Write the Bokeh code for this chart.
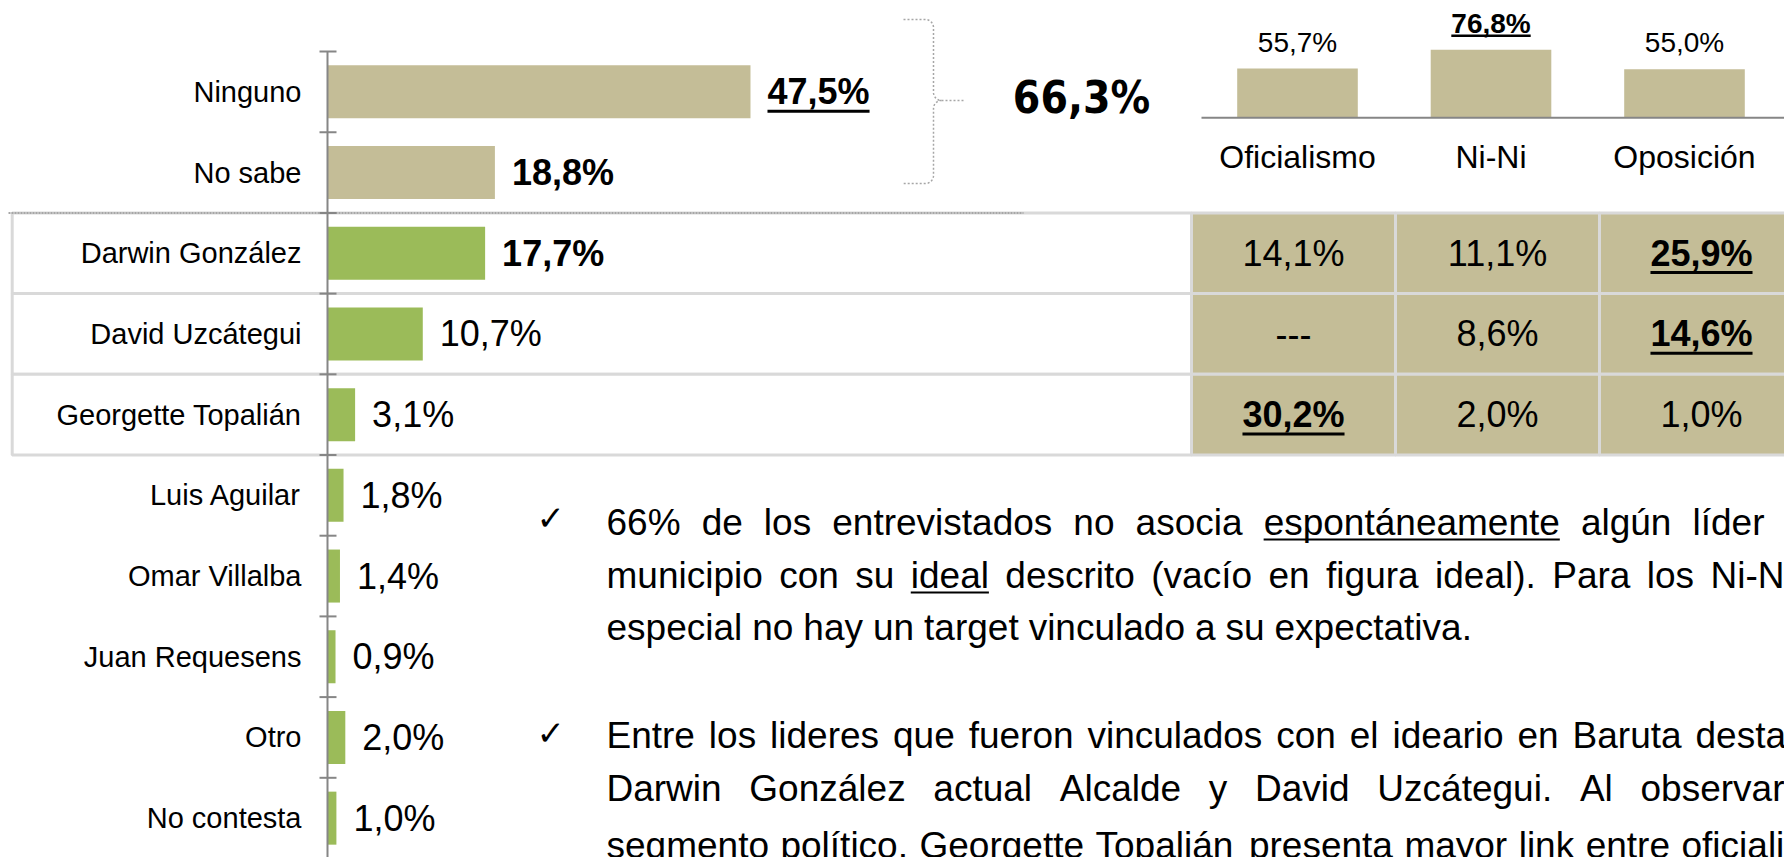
import numpy as np
from bokeh.plotting import figure
from bokeh.models import Range1d
from bokeh.core.properties import value
from bokeh.embed import file_html
from bokeh.resources import INLINE

# ---------------- data ----------------
categories = ["Ninguno", "No sabe", "Darwin González", "David Uzcátegui",
              "Georgette Topalián", "Luis Aguilar", "Omar Villalba",
              "Juan Requesens", "Otro", "No contesta"]
shares = [47.5, 18.8, 17.7, 10.7, 3.1, 1.8, 1.4, 0.9, 2.0, 1.0]

segments = ["Oficialismo", "Ni-Ni", "Oposición"]
segment_no_leader = [55.7, 76.8, 55.0]

table_leaders = ["Darwin González", "David Uzcátegui", "Georgette Topalián"]
tab_oficialismo = [14.1, None, 30.2]
tab_nini = [11.1, 8.6, 2.0]
tab_oposicion = [25.9, 14.6, 1.0]

bullet_lines = [
    "66%  de los entrevistados no asocia espontáneamente algún líder",
    "municipio con su ideal descrito (vacío en figura ideal). Para los Ni-Ni",
    "especial no hay un target vinculado a su expectativa.",
    "Entre los lideres que fueron vinculados con el ideario en Baruta destacan",
    "Darwin González actual Alcalde y David Uzcátegui. Al observar",
    "segmento político, Georgette Topalián presenta mayor link entre oficialismo",
]
underlined_words = {0: ["espontáneamente"], 1: ["ideal"]}

# ---------------- styles ----------------
TAN = "#C4BD97"
GREEN = "#9BBB59"
AXIS_GRAY = "#868686"
BORDER = "#D9D9D9"
DOT = "#A6A6A6"
FONT = value("Liberation Sans")
NARROW = value("'Liberation Sans Narrow', 'DejaVu Sans Condensed', 'Liberation Sans', sans-serif")
bar_colors = [TAN, TAN] + [GREEN] * 8
bold_value_idx = [0, 1, 2]
underline_value_idx = [0]

AW = {' ': 278, '!': 278, '%': 889, '(': 333, ')': 333, ',': 278, '-': 333, '.': 278, ':': 278,
      'A': 667, 'B': 667, 'C': 722, 'D': 722, 'E': 667, 'F': 611, 'G': 778, 'H': 722, 'I': 278,
      'J': 500, 'K': 667, 'L': 556, 'M': 833, 'N': 722, 'O': 778, 'P': 667, 'Q': 778, 'R': 722,
      'S': 667, 'T': 611, 'U': 722, 'V': 667, 'W': 944, 'X': 667, 'Y': 667, 'Z': 611,
      'a': 556, 'b': 556, 'c': 500, 'd': 556, 'e': 556, 'f': 278, 'g': 556, 'h': 556, 'i': 222,
      'j': 222, 'k': 500, 'l': 222, 'm': 833, 'n': 556, 'o': 556, 'p': 556, 'q': 556, 'r': 333,
      's': 500, 't': 278, 'u': 556, 'v': 500, 'w': 722, 'x': 500, 'y': 500, 'z': 500,
      'á': 556, 'é': 556, 'í': 278, 'ó': 556, 'ú': 556, 'ñ': 556}


def tw(s, size):
    return sum(AW.get(ch, 556) for ch in s) * size / 1000.0


def fmt(v):
    return ("%.1f" % v).replace(".", ",") + "%"


# ---------------- layout ----------------
W, H = 1784, 857

AX = 327.0
PXP = 8.905            # px per percent, left chart
CSTEP = 80.7
CAT0 = 51.0 + CSTEP / 2
SEG0 = 1297.0
SSTEP = 193.5
SBASE = 117.3
SPXP = 0.885
TAB0 = 1293.0
TSTEP = 204.0

p = figure(width=W, height=H, x_range=Range1d(0, W), y_range=Range1d(H, 0),
           output_backend="svg", toolbar_location=None, min_border=0,
           x_axis_location=None, y_axis_location=None, outline_line_color=None,
           background_fill_color="white", border_fill_color="white")
p.grid.visible = False
p.extra_x_ranges = {
    "pct": Range1d(-AX / PXP, (W - AX) / PXP),
    "seg": Range1d(-SEG0 / SSTEP, (W - SEG0) / SSTEP),
    "tab": Range1d(-TAB0 / TSTEP, (W - TAB0) / TSTEP),
}
p.extra_y_ranges = {
    "cat": Range1d((H - CAT0) / CSTEP, -CAT0 / CSTEP),
    "spct": Range1d(-(H - SBASE) / SPXP, SBASE / SPXP),
}

cat_idx = list(range(len(categories)))
row_idx = [categories.index(n) for n in table_leaders]

# white row boxes
p.quad(left=[11.7] * len(row_idx), right=[1191] * len(row_idx),
       top=[r - 0.5 for r in row_idx], bottom=[r + 0.5 for r in row_idx],
       y_range_name="cat", fill_color="white", line_color=BORDER, line_width=3)

# table cells
cols = [tab_oficialismo, tab_nini, tab_oposicion]
cl, cr, ct, cb = [], [], [], []
for c in range(len(cols)):
    for r in row_idx:
        cl.append(c - 0.5); cr.append(c + 0.5); ct.append(r - 0.5); cb.append(r + 0.5)
p.quad(left=cl, right=cr, top=ct, bottom=cb, x_range_name="tab", y_range_name="cat",
       fill_color=TAN, line_color=BORDER, line_width=3)

# dotted separator
p.segment(x0=[8], x1=[1023], y0=[1.5], y1=[1.5], y_range_name="cat",
          line_color=DOT, line_width=2, line_dash="2 1")

# bars
p.hbar(y=cat_idx, left=0, right=shares, height=0.657, fill_color=bar_colors,
       line_color=None, x_range_name="pct", y_range_name="cat")

# axis line + ticks
p.segment(x0=[0], x1=[0], y0=[-0.5], y1=[len(categories) - 0.5],
          x_range_name="pct", y_range_name="cat", line_color=AXIS_GRAY, line_width=2)
bnd = [k - 0.5 for k in range(len(categories) + 1)]
p.segment(x0=[-8 / PXP] * len(bnd), x1=[9 / PXP] * len(bnd), y0=bnd, y1=bnd,
          x_range_name="pct", y_range_name="cat", line_color=AXIS_GRAY, line_width=2)

# category labels
p.text(x=[301] * len(categories), y=cat_idx, text=categories, y_range_name="cat",
       text_align="right", text_baseline="middle", text_font=FONT,
       text_font_size="29px", text_color="black")

# value labels
VS = 36
labels = [fmt(v) for v in shares]
for bold in (True, False):
    ids = [i for i in cat_idx if (i in bold_value_idx) == bold]
    p.text(x=[shares[i] for i in ids], y=ids, text=[labels[i] for i in ids],
           x_offset=17, x_range_name="pct", y_range_name="cat",
           text_align="left", text_baseline="middle", text_font=FONT,
           text_font_size="%dpx" % VS, text_font_style="bold" if bold else "normal",
           text_color="black")
for i in underline_value_idx:
    x0 = shares[i] + 17 / PXP
    p.segment(x0=[x0], x1=[x0 + tw(labels[i], VS) / PXP], y0=[i + 19.3 / CSTEP],
              y1=[i + 19.3 / CSTEP], x_range_name="pct", y_range_name="cat",
              line_color="black", line_width=3)


# brace
def arc(cx, cy, r, a0, a1, n=10):
    a = np.radians(np.linspace(a0, a1, n))
    return list(cx + r * np.cos(a)), list(cy + r * np.sin(a))


bx, by = [903, 925], [19, 19]
for seg in [arc(925, 27, 8, -90, 0), ([933, 933], [27, 92]), arc(941, 92, 8, 180, 90),
            arc(941, 108, 8, -90, -180), ([933, 933], [108, 175]), arc(925, 175, 8, 0, 90),
            ([925, 903], [183, 183])]:
    bx += list(seg[0]); by += list(seg[1])
p.line(x=bx, y=by, line_color=DOT, line_width=1.5, line_dash="2 2")
p.line(x=[941, 963], y=[100, 100], line_color=DOT, line_width=1.5, line_dash="2 2")

# total no-leader figure
total_none = shares[0] + shares[1]
p.text(x=[1081], y=[97], text=[fmt(total_none)], text_align="center",
       text_baseline="middle", text_font=NARROW, text_font_size="44px",
       text_font_style="bold", text_color="black")

# mini column chart
seg_idx = list(range(len(segments)))
p.vbar(x=seg_idx, top=segment_no_leader, bottom=0, width=120.6 / SSTEP,
       fill_color=TAN, line_color=None, x_range_name="seg", y_range_name="spct")
p.segment(x0=[1201], x1=[W], y0=[0], y1=[0], y_range_name="spct",
          line_color=AXIS_GRAY, line_width=2)
MS = 28
mmax = max(segment_no_leader)
for bold in (True, False):
    ids = [i for i in seg_idx if (segment_no_leader[i] == mmax) == bold]
    p.text(x=ids, y=[segment_no_leader[i] + 26.5 / SPXP for i in ids],
           text=[fmt(segment_no_leader[i]) for i in ids], x_range_name="seg",
           y_range_name="spct", text_align="center", text_baseline="middle",
           text_font=FONT, text_font_size="%dpx" % MS,
           text_font_style="bold" if bold else "normal", text_color="black")
for i in seg_idx:
    if segment_no_leader[i] == mmax:
        w = tw(fmt(segment_no_leader[i]), MS) / SSTEP
        yy = segment_no_leader[i] + 14.0 / SPXP
        p.segment(x0=[i - w / 2], x1=[i + w / 2], y0=[yy], y1=[yy], x_range_name="seg",
                  y_range_name="spct", line_color="black", line_width=2.5)
p.text(x=seg_idx, y=[156] * 3, text=segments, x_range_name="seg",
       text_align="center", text_baseline="middle", text_font=FONT,
       text_font_size="32px", text_color="black")

# table texts
TS = 36
for k, r in enumerate(row_idx):
    vals = [cols[c][k] for c in range(len(cols))]
    rmax = max(v for v in vals if v is not None)
    for c, v in enumerate(vals):
        txt = "---" if v is None else fmt(v)
        hl = v is not None and v == rmax
        p.text(x=[c], y=[r], text=[txt], x_range_name="tab", y_range_name="cat",
               text_align="center", text_baseline="middle", text_font=FONT,
               text_font_size="%dpx" % TS, text_font_style="bold" if hl else "normal",
               text_color="black")
        if hl:
            w = tw(txt, TS) / TSTEP
            p.segment(x0=[c - w / 2], x1=[c + w / 2], y0=[r + 19.3 / CSTEP],
                      y1=[r + 19.3 / CSTEP], x_range_name="tab", y_range_name="cat",
                      line_color="black", line_width=3)

# bullet text (justified)
BS = 37
layout = [(606, 1692, 535), (606, 1710, 588), (606, 1274, 640),
          (606, 1695, 748), (606, 1640, 801), (606, 1681, 858)]
wx, wy, wt = [], [], []
for li, line in enumerate(bullet_lines):
    x_start, x_last, base = layout[li]
    words = line.split()
    widths = [tw(w, BS) for w in words]
    gap = (x_last - x_start - sum(widths[:-1])) / (len(words) - 1)
    x = x_start
    done = set()
    for w, ww in zip(words, widths):
        wx.append(x); wy.append(base - 0.358 * BS); wt.append(w)
        if w in underlined_words.get(li, []) and w not in done:
            done.add(w)
            p.segment(x0=[x], x1=[x + ww], y0=[base + 4], y1=[base + 4],
                      line_color="black", line_width=2)
        x += ww + gap
p.text(x=wx, y=wy, text=wt, text_align="left", text_baseline="middle",
       text_font=FONT, text_font_size="%dpx" % BS, text_color="black")
p.text(x=[536, 536], y=[517, 732], text=["\u2713", "\u2713"],
       text_align="left", text_baseline="middle", text_font=value("DejaVu Sans"),
       text_font_size="34px", text_color="black")

open("out.html", "w").write(file_html(p, INLINE))
